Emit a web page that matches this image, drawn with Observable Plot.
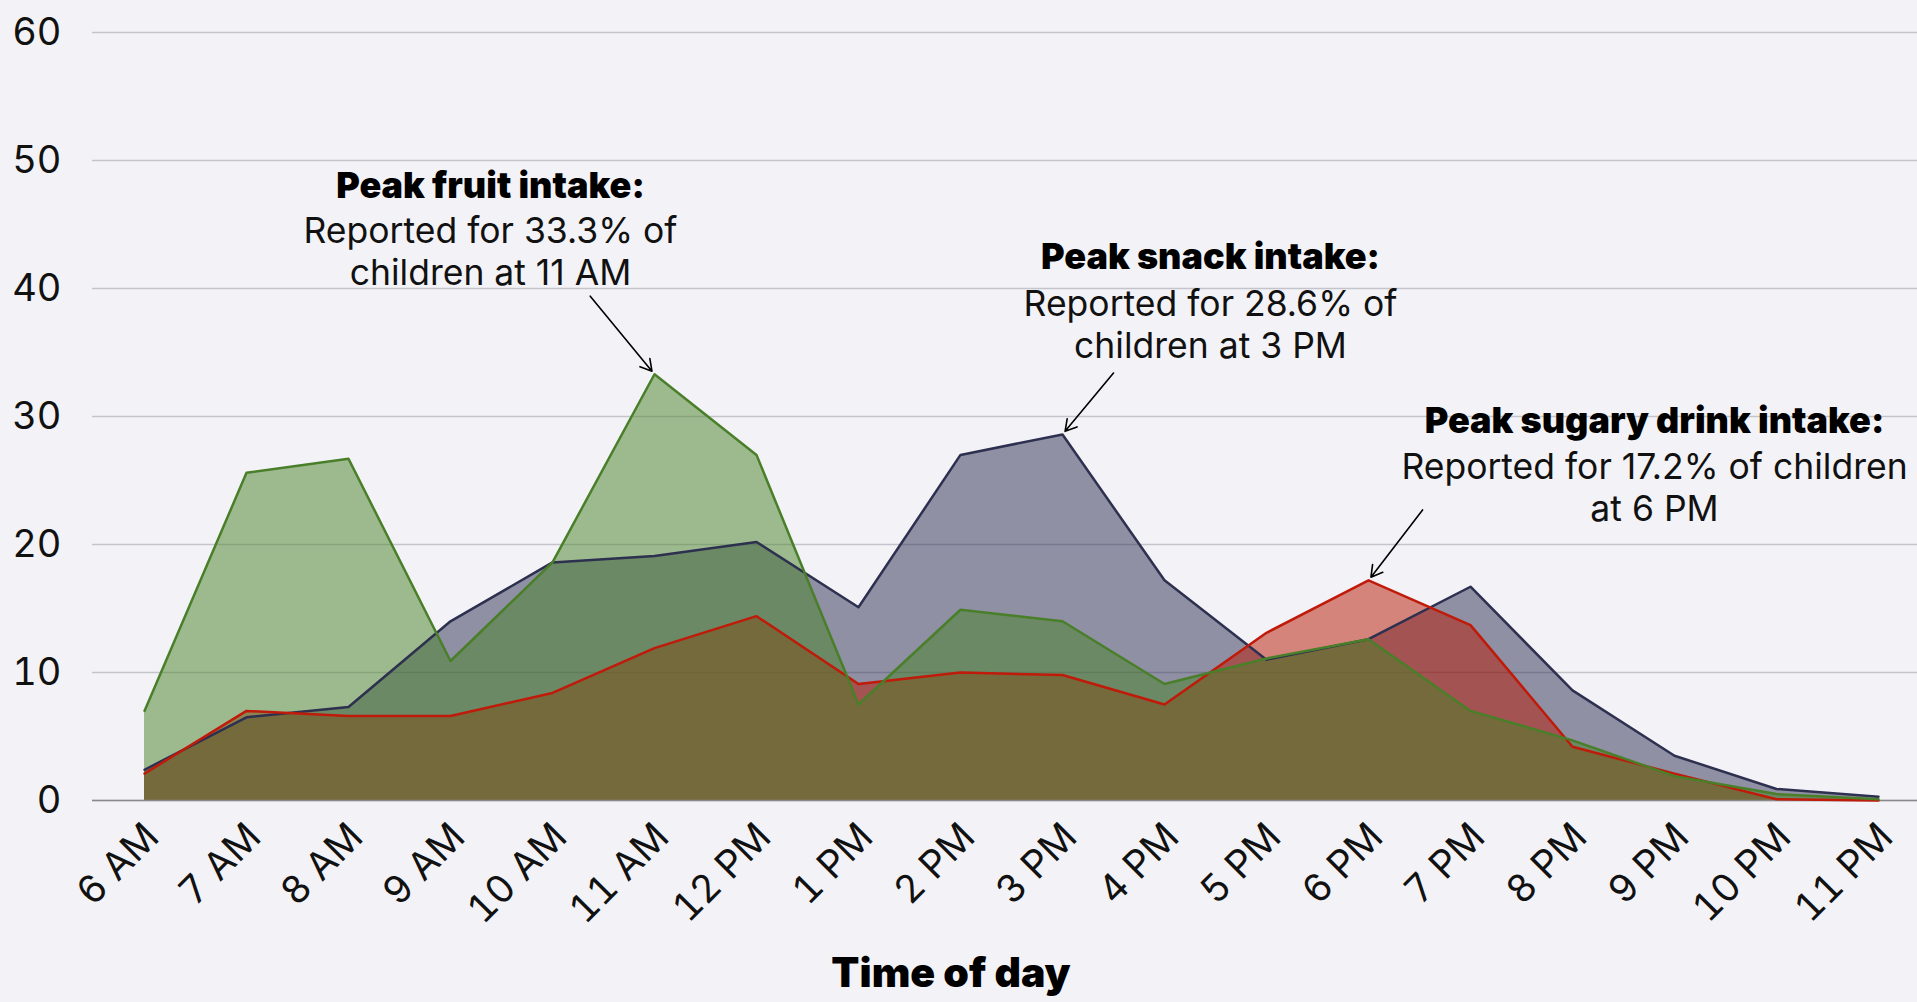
<!DOCTYPE html>
<html><head><meta charset="utf-8">
<script src="https://cdn.jsdelivr.net/npm/d3@7"></script>
<script src="https://cdn.jsdelivr.net/npm/@observablehq/plot@0.6"></script>
<style>
html,body{margin:0;padding:0;background:#f3f3f7;}
#chart{width:1917px;height:1002px;overflow:hidden;}
</style></head><body><div id="chart"></div>
<script>
// ---- data ----
const times = ["6 AM","7 AM","8 AM","9 AM","10 AM","11 AM","12 PM","1 PM","2 PM","3 PM","4 PM","5 PM","6 PM","7 PM","8 PM","9 PM","10 PM","11 PM"];
const snack  = [2.4, 6.5, 7.3, 14.0, 18.6, 19.1, 20.2, 15.1, 27.0, 28.6, 17.2, 11.0, 12.6, 16.7, 8.6, 3.5, 0.9, 0.3];
const sugary = [2.1, 7.0, 6.6, 6.6, 8.4, 11.9, 14.4, 9.1, 10.0, 9.8, 7.5, 13.1, 17.2, 13.7, 4.2, 2.1, 0.1, 0.0];
const fruit  = [7.0, 25.6, 26.7, 10.9, 18.6, 33.3, 27.0, 7.5, 14.9, 14.0, 9.1, 11.1, 12.6, 7.0, 4.7, 1.9, 0.5, 0.1];
const yTicks = [0, 10, 20, 30, 40, 50, 60];
const xTitle = "Time of day";
const notes = [
  {series: "fruit",  head: "Peak fruit intake:",        body: "Reported for 33.3% of\nchildren at 11 AM"},
  {series: "snack",  head: "Peak snack intake:",        body: "Reported for 28.6% of\nchildren at 3 PM"},
  {series: "sugary", head: "Peak sugary drink intake:", body: "Reported for 17.2% of children\nat 6 PM"}
];

// ---- styles / layout ----
const seriesStyle = {
  snack:  {stroke: "#2e3050", fill: "#2b2d4f"},
  sugary: {stroke: "#c01a0a", fill: "#b71500"},
  fruit:  {stroke: "#4a7f2a", fill: "#478127"}
};
const seriesValues = {snack, sugary, fruit};
const drawOrder = ["snack", "sugary", "fruit"];
const noteLayout = {
  fruit:  {tdx: -164, hdy: -188, bdy: -124, ax: -0.63, ay: 6.1},
  snack:  {tdx: 148,  hdy: -177, bdy: -111, ax: 0.5,   ay: 4.8},
  sugary: {tdx: 286,  hdy: -159, bdy: -94,  ax: 0.53,  ay: 5.5}
};
const FONT = "Inter, 'Open Sans', sans-serif";

const rows = s => seriesValues[s].map((v, i) => ({i, v, s}));

const marks = [
  Plot.gridY(yTicks, {stroke: "#c4c4cc", strokeOpacity: 1, strokeWidth: 1.5})
];
for (const s of drawOrder) {
  marks.push(Plot.areaY(rows(s), {x: "i", y: "v", fill: seriesStyle[s].fill, fillOpacity: 0.5}));
}
marks.push(Plot.ruleY([0], {stroke: "#8a8a8a", strokeWidth: 1.5}));
for (const s of drawOrder) {
  marks.push(Plot.lineY(rows(s), {x: "i", y: "v", stroke: seriesStyle[s].stroke, strokeWidth: 2.5}));
}
for (const n of notes) {
  const vals = seriesValues[n.series];
  const pi = d3.maxIndex(vals);
  const pv = vals[pi];
  const L = noteLayout[n.series];
  marks.push(Plot.text([n], {x: () => pi, y: () => pv, text: "head", dx: L.tdx, dy: L.hdy,
    fontSize: 36, fontWeight: 900, fill: "#000", lineAnchor: "middle", letterSpacing: "0.6px"}));
  marks.push(Plot.text([n], {x: () => pi, y: () => pv, text: "body", dx: L.tdx, dy: L.bdy,
    fontSize: 35.5, fontWeight: 400, fill: "#111", lineAnchor: "middle", lineHeight: 1.2}));
  marks.push(Plot.arrow([n], {x1: () => pi + L.ax, y1: () => pv + L.ay, x2: () => pi, y2: () => pv,
    stroke: "#000", strokeWidth: 1.6, headLength: 12, insetEnd: 4}));
}
marks.push(Plot.axisY(yTicks, {tickSize: 0, tickPadding: 31, fontSize: 38, fill: "#111", label: null}));
marks.push(Plot.axisX(d3.range(times.length), {tickSize: 0, tickRotate: -45, tickFormat: i => times[i],
  fontSize: 38.5, fill: "#111", label: null, tickPadding: 30, dx: 8}));
marks.push(Plot.text([xTitle], {frameAnchor: "bottom", text: d => d, dx: -54, dy: 186,
  fontSize: 41, fontWeight: 900, fill: "#000"}));

const plot = Plot.plot({
  width: 1917,
  height: 1002,
  marginLeft: 92,
  marginRight: 0,
  marginTop: 32,
  marginBottom: 202,
  style: {background: "#f3f3f7", fontFamily: FONT, overflow: "visible"},
  x: {type: "linear", domain: [0, times.length - 1], range: [144, 1878]},
  y: {domain: [0, 60]},
  marks
});
document.getElementById("chart").appendChild(plot);
</script></body></html>
